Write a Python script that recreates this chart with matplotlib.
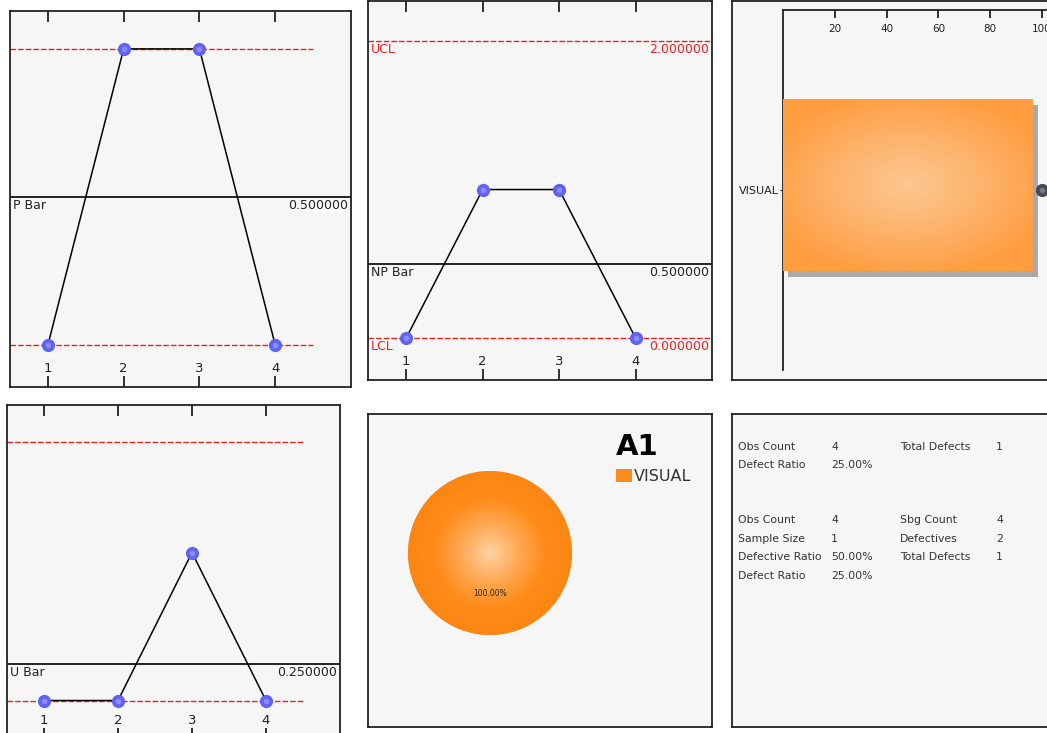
import numpy as np
import matplotlib.pyplot as plt
from matplotlib.colors import LinearSegmentedColormap

# datos
muestras = [1, 2, 3, 4]

p_valores = [0, 1, 1, 0]
p_centro = 0.5
p_ucl = 1.0
p_lcl = 0.0

np_valores = [0, 1, 1, 0]
np_centro = 0.5
np_ucl = 2.0
np_lcl = 0.0

u_valores = [0, 0, 1, 0]
u_centro = 0.25
u_ucl = 1.75
u_lcl = 0.0

categorias = ['VISUAL']
conteos = [1]
acumulado = [100]
pct_ticks = [20, 40, 60, 80, 100]

pie_valores = [1]
pie_titulo = 'A1'

resumen_col1 = ['Obs Count', 'Defect Ratio', 'Obs Count', 'Sample Size', 'Defective Ratio', 'Defect Ratio']
resumen_val1 = ['4', '25.00%', '4', '1', '50.00%', '25.00%']
resumen_col2 = ['Total Defects', '', 'Sbg Count', 'Defectives', 'Total Defects', '']
resumen_val2 = ['1', '', '4', '2', '1', '']

W, H = 1047, 733
fig = plt.figure(figsize=(W / 100, H / 100), dpi=100)
fig.patch.set_facecolor('white')

ROJO = '#e8231f'
AZUL = '#6262f2'
TXT = '#222222'


def caja(x0, y0, x1, y1):
    # rectangulo en pixeles (desde arriba) -> fraccion de figura
    return [x0 / W, 1 - y1 / H, (x1 - x0) / W, (y1 - y0) / H]


def panel(x0, y0, x1, y1):
    ax = fig.add_axes(caja(x0, y0, x1, y1))
    ax.set_facecolor('#f6f6f6')
    for s in ax.spines.values():
        s.set_linewidth(1.3)
        s.set_color(TXT)
    ax.set_xticks([])
    ax.set_yticks([])
    return ax


def esferas(ax, x, y, color, brillo):
    ax.plot(x, y, 'o', ms=9.5, color=color, mec='none', zorder=5, clip_on=False)
    ax.plot(x, y, 'o', ms=4, color=brillo, mec='none', alpha=0.6, zorder=6, clip_on=False)


def carta(ax, valores, centro, ucl, lcl, nombre, ylim, limites_cortos, con_etiquetas):
    ax.set_xlim(0.5, 5.0)
    ax.set_ylim(*ylim)
    if limites_cortos:
        for lim in [ucl, lcl]:
            ax.plot([0.5, 4.5], [lim, lim], color=ROJO, lw=1, dashes=(4, 1.5), zorder=2)
    else:
        for lim in [ucl, lcl]:
            ax.axhline(lim, color=ROJO, lw=1, dashes=(4, 1.5), zorder=2)
    ax.axhline(centro, color='black', lw=1.2, zorder=2)
    ax.plot(muestras, valores, color='black', lw=1.1, zorder=3)
    esferas(ax, muestras, valores, AZUL, '#a8a8ff')

    ax.annotate(nombre, xy=(0, centro), xycoords=('axes fraction', 'data'), xytext=(2, -1.5),
                textcoords='offset points', ha='left', va='top', fontsize=9, color=TXT)
    ax.annotate('%.6f' % centro, xy=(1, centro), xycoords=('axes fraction', 'data'), xytext=(-2, -1.5),
                textcoords='offset points', ha='right', va='top', fontsize=9, color=TXT)
    if con_etiquetas:
        for nom, lim in [('UCL', ucl), ('LCL', lcl)]:
            ax.annotate(nom, xy=(0, lim), xycoords=('axes fraction', 'data'), xytext=(2, -1.5),
                        textcoords='offset points', ha='left', va='top', fontsize=9, color=ROJO)
            ax.annotate('%.6f' % lim, xy=(1, lim), xycoords=('axes fraction', 'data'), xytext=(-2, -1.5),
                        textcoords='offset points', ha='right', va='top', fontsize=9, color=ROJO)

    ax.set_xticks(muestras)
    ax.tick_params(axis='x', top=True, bottom=True, direction='in', length=8, width=1.3,
                   labelbottom=False, color=TXT)
    for m in muestras:
        ax.annotate(str(m), xy=(m, 0), xycoords=('data', 'axes fraction'), xytext=(0, 13.5),
                    textcoords='offset points', ha='center', va='center', fontsize=9.5, color=TXT)


# carta P
ax1 = panel(10, 11, 351, 387)
carta(ax1, p_valores, p_centro, p_ucl, p_lcl, 'P Bar', (-0.142, 1.128), True, False)

# carta NP
ax2 = panel(368, 1, 712, 380)
carta(ax2, np_valores, np_centro, np_ucl, np_lcl, 'NP Bar', (-0.283, 2.27), False, True)

# carta U
ax4 = panel(7, 405, 340, 739)
carta(ax4, u_valores, u_centro, u_ucl, u_lcl, 'U Bar', (-0.26, 1.997), True, False)

# pareto
ax3 = panel(732, 1, 1080, 380)
par = fig.add_axes(caja(783, 10, 1090, 370))
par.patch.set_visible(False)
for lado in ['right', 'bottom']:
    par.spines[lado].set_visible(False)
for lado in ['left', 'top']:
    par.spines[lado].set_linewidth(1.3)
    par.spines[lado].set_color(TXT)

y_barra = np.arange(len(categorias)) + 0.028
par.barh(y_barra - 0.033, conteos, height=0.956, left=0.02, color='#a9a9a9', zorder=2)
barras = par.barh(y_barra, conteos, height=0.956, color='#ff9a3c', zorder=3)

naranja_barra = LinearSegmentedColormap.from_list('nb', ['#fcc891', '#fdb36c', '#ff9d40'])
gy, gx = np.mgrid[-1:1:200j, -1:1:200j]
grad_barra = np.sqrt((gx * 1.0) ** 2 + (gy * 1.1) ** 2)
for b in barras:
    im = par.imshow(grad_barra, extent=(b.get_x(), b.get_x() + b.get_width(), b.get_y(), b.get_y() + b.get_height()),
                    cmap=naranja_barra, vmin=0, vmax=1.2, aspect='auto', zorder=4)
    im.set_clip_path(b)

par.set_xlim(0, 1.228)
par.set_ylim(-1, 1)
par.set_xticks([])
par.set_yticks(np.arange(len(categorias)))
par.set_yticklabels(categorias, fontsize=8, color=TXT)
par.tick_params(axis='y', length=2, pad=1, color=TXT)

pct = par.twiny()
pct.set_xlim(0, 118.5)
pct.set_ylim(-1, 1)
for s in pct.spines.values():
    s.set_visible(False)
pct.set_xticks(pct_ticks)
pct.tick_params(axis='x', top=True, direction='in', length=6, width=1.3, labelsize=7.5, pad=-17,
                color=TXT, labelcolor=TXT)
esferas(pct, acumulado, np.arange(len(categorias)), '#4a4a55', '#9a9aa8')

# pastel
ax5 = panel(368, 414, 712, 727)
tarta = fig.add_axes(caja(390, 453, 590, 653))
cunas, _, autotextos = tarta.pie(pie_valores, colors=['#ff8c1a'], startangle=90, autopct='%.2f%%',
                                 pctdistance=0.49, textprops={'fontsize': 5.5, 'color': '#222'},
                                 wedgeprops={'linewidth': 0})
naranja_pie = LinearSegmentedColormap.from_list('np', ['#ffd3a3', '#ffaa58', '#ff8c1a', '#fb8612'])
gy, gx = np.mgrid[-1:1:300j, -1:1:300j]
im = tarta.imshow(np.sqrt(gx ** 2 + gy ** 2), extent=(-1, 1, -1, 1), cmap=naranja_pie, vmin=0, vmax=1, zorder=2)
im.set_clip_path(cunas[0])
for t in autotextos:
    t.set_zorder(5)
tarta.set_xlim(-1.22, 1.22)
tarta.set_ylim(-1.22, 1.22)
tarta.axis('off')

ley = ax5.legend(cunas, categorias, title=pie_titulo, loc='upper left', bbox_to_anchor=(0.697, 0.965),
                 frameon=False, fontsize=11.5, title_fontproperties={'weight': 'bold', 'size': 21},
                 handlelength=1.0, handleheight=0.9, handletextpad=0.15, borderpad=0, alignment='left',
                 labelcolor='#333333')

# resumen
ax6 = panel(732, 414, 1080, 727)
ax6.set_xlim(732, 1080)
ax6.set_ylim(727, 414)
filas_y = [447, 465, 520, 539, 557, 576]
columnas_x = [738, 831, 900, 996]
for i, fy in enumerate(filas_y):
    for cx, col in zip(columnas_x, [resumen_col1, resumen_val1, resumen_col2, resumen_val2]):
        ax6.text(cx, fy, col[i], fontsize=7.8, color='#333333', va='center', ha='left')

fig.savefig('out.png', dpi=100)
